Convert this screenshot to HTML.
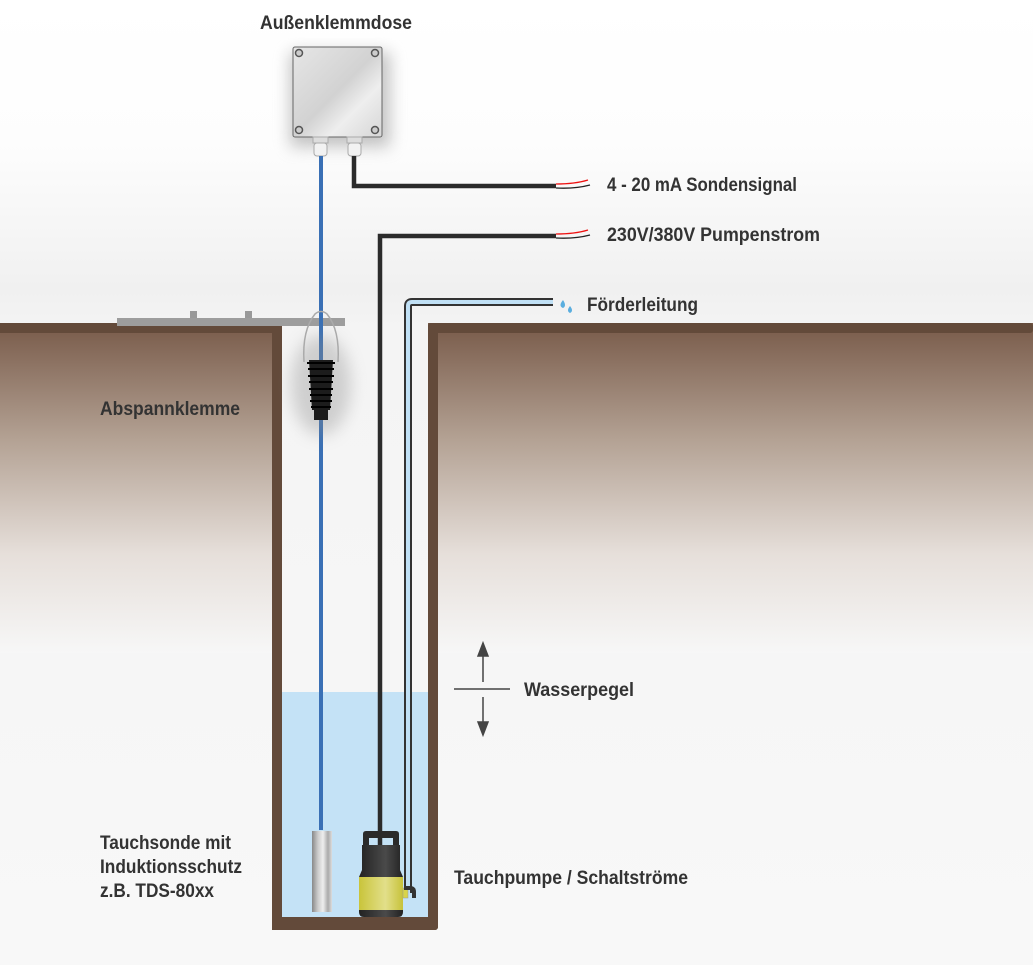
<!DOCTYPE html>
<html><head><meta charset="utf-8"><style>
html,body{margin:0;padding:0;width:1033px;height:965px;overflow:hidden;background:#fff}
svg text{font-family:"Liberation Sans",sans-serif;font-weight:bold;fill:#333;font-size:19px}
</style></head><body>
<svg width="1033" height="965" viewBox="0 0 1033 965" xmlns="http://www.w3.org/2000/svg">
<defs>
<linearGradient id="sky" x1="0" y1="0" x2="0" y2="1">
<stop offset="0" stop-color="#ffffff"/><stop offset="0.15" stop-color="#fdfdfd"/><stop offset="0.3" stop-color="#f0f0f0"/><stop offset="0.34" stop-color="#f4f4f4"/><stop offset="1" stop-color="#f8f8f8"/>
</linearGradient>
<linearGradient id="earth" x1="0" y1="0" x2="0" y2="1">
<stop offset="0" stop-color="#785a49"/><stop offset="0.35" stop-color="#b3a193"/><stop offset="0.7" stop-color="#e6dfda"/><stop offset="1" stop-color="#f7f7f7"/>
</linearGradient>
<linearGradient id="box" x1="0" y1="0" x2="1" y2="1">
<stop offset="0" stop-color="#e6e6e6"/><stop offset="0.5" stop-color="#d2d2d2"/><stop offset="0.7" stop-color="#eeeeee"/><stop offset="1" stop-color="#d6d6d6"/>
</linearGradient>
<linearGradient id="metal" x1="0" y1="0" x2="1" y2="0">
<stop offset="0" stop-color="#888"/><stop offset="0.3" stop-color="#ccc"/><stop offset="0.55" stop-color="#eee"/><stop offset="0.8" stop-color="#aaa"/><stop offset="1" stop-color="#ddd"/>
</linearGradient>
<linearGradient id="yel" x1="0" y1="0" x2="1" y2="0">
<stop offset="0" stop-color="#c9c43a"/><stop offset="0.6" stop-color="#e2df8a"/><stop offset="1" stop-color="#c7c23a"/>
</linearGradient>
<linearGradient id="blk" x1="0" y1="0" x2="1" y2="0">
<stop offset="0" stop-color="#222"/><stop offset="0.6" stop-color="#4a4a4a"/><stop offset="1" stop-color="#222"/>
</linearGradient>
<filter id="sh" x="-50%" y="-50%" width="200%" height="200%"><feGaussianBlur stdDeviation="8"/></filter>
</defs>
<rect width="1033" height="965" fill="url(#sky)"/>
<rect x="0" y="323" width="282" height="330" fill="url(#earth)"/>
<rect x="428" y="323" width="605" height="330" fill="url(#earth)"/>
<rect x="0" y="323" width="282" height="10" fill="#634a3a"/>
<rect x="428" y="323" width="605" height="10" rx="3" fill="#634a3a"/>
<rect x="272" y="323" width="10" height="607" fill="#634a3a"/>
<rect x="428" y="323" width="10" height="607" rx="3" fill="#634a3a"/>
<rect x="272" y="917" width="166" height="13" rx="3" fill="#634a3a"/>
<rect x="282" y="692" width="146" height="225" fill="#c4e2f6"/>
<rect x="190" y="311" width="7" height="8" fill="#999"/><rect x="245" y="311" width="7" height="8" fill="#999"/>
<rect x="117" y="318" width="228" height="8" fill="#9d9d9d"/>
<rect x="290" y="52" width="100" height="95" fill="#888" opacity="0.5" filter="url(#sh)"/>
<rect x="293" y="47" width="89" height="90" rx="2" fill="url(#box)" stroke="#666" stroke-width="1"/>
<g fill="#ccc" stroke="#555" stroke-width="1.5">
<circle cx="299" cy="53" r="3.5"/><circle cx="375" cy="53" r="3.5"/><circle cx="299" cy="130" r="3.5"/><circle cx="375" cy="130" r="3.5"/></g>
<rect x="313" y="137" width="15" height="6" fill="#ddd" stroke="#aaa"/><rect x="314" y="143" width="13" height="13" rx="3" fill="#f2f2f2" stroke="#aaa"/>
<rect x="347" y="137" width="15" height="6" fill="#ddd" stroke="#aaa"/><rect x="348" y="143" width="13" height="13" rx="3" fill="#f2f2f2" stroke="#aaa"/>
<line x1="321" y1="156" x2="321" y2="830" stroke="#3a70b5" stroke-width="4"/>
<polyline points="354,156 354,186 556,186" fill="none" stroke="#2b2b2b" stroke-width="4.5"/>
<polyline points="380,850 380,236 556,236" fill="none" stroke="#2b2b2b" stroke-width="4.5"/>
<g fill="none" stroke-width="1.3">
<path d="M556 184 Q575 184 588 180" stroke="#e11"/><path d="M556 188 Q575 189 590 185" stroke="#222"/>
<path d="M556 234 Q575 234 588 230" stroke="#e11"/><path d="M556 238 Q575 239 590 235" stroke="#222"/></g>
<path d="M408 893 L408 306 Q408 302 412 302 L553 302" fill="none" stroke="#333" stroke-width="8"/>
<path d="M408 893 L408 306 Q408 302 412 302 L553 302" fill="none" stroke="#c0e0f5" stroke-width="4"/>
<path d="M563 300 q-5 6 0 8 q4 -2 0 -8z M570 306 q-4 5 0 7 q4 -2 0 -7z" fill="#5aaedf"/>
<ellipse cx="321" cy="385" rx="30" ry="50" fill="#888" opacity="0.35" filter="url(#sh)"/>
<path d="M304 362 Q302 330 315 314 Q321 309 327 314 Q340 330 338 362" fill="none" stroke="#aaa" stroke-width="1.5"/>
<path d="M309 360 L333 360 L330 410 L312 410 Z" fill="#1c1c1c"/>
<rect x="314" y="408" width="14" height="12" fill="#1c1c1c"/>
<g stroke="#000" stroke-width="2"><line x1="307" y1="363" x2="335" y2="363"/><line x1="308" y1="369" x2="334" y2="369"/><line x1="308" y1="376" x2="334" y2="376"/><line x1="309" y1="382" x2="333" y2="382"/><line x1="309" y1="389" x2="333" y2="389"/><line x1="310" y1="395" x2="332" y2="395"/><line x1="310" y1="401" x2="332" y2="401"/><line x1="311" y1="407" x2="331" y2="407"/></g>
<rect x="312" y="831" width="20" height="81" fill="url(#metal)"/>
<path d="M363 848 L363 834 Q363 831 366 831 L396 831 Q399 831 399 834 L399 848 L393 848 L393 838 L369 838 L369 848Z" fill="#2a2a2a"/>
<path d="M362 845 L400 845 L400 870 L403 877 L403 912 Q403 917 398 917 L364 917 Q359 917 359 912 L359 877 L362 870Z" fill="url(#blk)"/>
<rect x="359" y="877" width="44" height="33" fill="url(#yel)"/>
<rect x="403" y="888" width="5" height="10" fill="#d8d44a" stroke="#999" stroke-width="0.5"/>
<path d="M404 888 L410 888 Q414 888 414 892 L414 898" fill="none" stroke="#333" stroke-width="4"/>
<g stroke="#444" stroke-width="1.5" fill="#444">
<line x1="483" y1="655" x2="483" y2="682"/><path d="M478 656 L483 643 L488 656Z"/>
<line x1="454" y1="689" x2="510" y2="689"/>
<line x1="483" y1="697" x2="483" y2="723"/><path d="M478 722 L483 735 L488 722Z"/></g>
<text x="260" y="29" textLength="152" lengthAdjust="spacingAndGlyphs">Außenklemmdose</text>
<text x="607" y="191" textLength="190" lengthAdjust="spacingAndGlyphs">4 - 20 mA Sondensignal</text>
<text x="607" y="241" textLength="213" lengthAdjust="spacingAndGlyphs">230V/380V Pumpenstrom</text>
<text x="587" y="311" textLength="111" lengthAdjust="spacingAndGlyphs">Förderleitung</text>
<text x="100" y="415" textLength="140" lengthAdjust="spacingAndGlyphs">Abspannklemme</text>
<text x="524" y="696" textLength="110" lengthAdjust="spacingAndGlyphs">Wasserpegel</text>
<text x="100" y="849" textLength="131" lengthAdjust="spacingAndGlyphs">Tauchsonde mit</text>
<text x="100" y="873" textLength="142" lengthAdjust="spacingAndGlyphs">Induktionsschutz</text>
<text x="100" y="897" textLength="114" lengthAdjust="spacingAndGlyphs">z.B. TDS-80xx</text>
<text x="454" y="884" textLength="234" lengthAdjust="spacingAndGlyphs">Tauchpumpe / Schaltströme</text>
</svg>
</body></html>
